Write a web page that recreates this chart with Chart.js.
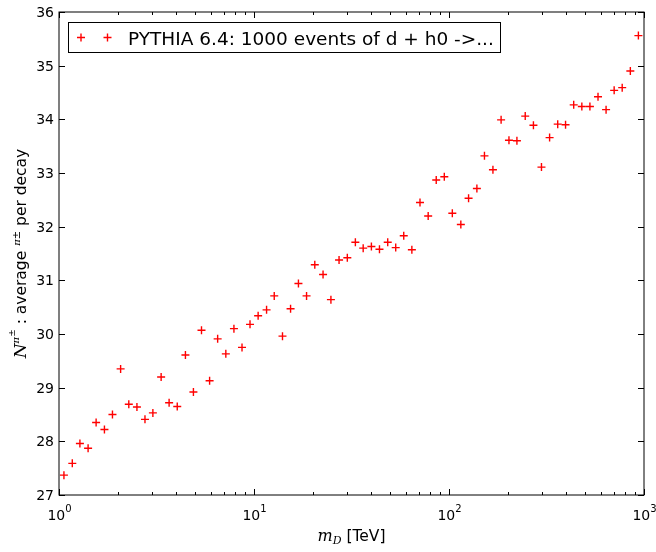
<!DOCTYPE html>
<html>
<head>
<meta charset="utf-8">
<script src="https://cdn.jsdelivr.net/npm/chart.js@4/dist/chart.umd.min.js"></script>
<style>
  html, body { margin: 0; padding: 0; background: #fff; }
  #wrap { width: 656px; height: 552px; }
</style>
</head>
<body>
<div id="wrap"><canvas id="chart" width="656" height="552"></canvas></div>
<script>
// m_D values in TeV (log spaced)
const massValues = [1.06, 1.17, 1.28, 1.41, 1.55, 1.71, 1.88, 2.07, 2.28, 2.51,
  2.76, 3.03, 3.34, 3.67, 4.04, 4.45, 4.89, 5.38, 5.92, 6.51,
  7.17, 7.89, 8.68, 9.54, 10.5, 11.6, 12.7, 14.0, 15.4, 16.9,
  18.6, 20.5, 22.6, 24.8, 27.3, 30.1, 33.1, 36.3, 40.0, 44.0,
  48.5, 53.3, 58.6, 64.5, 71.0, 78.2, 86.0, 94.6, 104, 115,
  126, 139, 152, 168, 185, 203, 223, 246, 271, 298,
  328, 361, 396, 436, 480, 528, 581, 639, 703, 773,
  851, 936];

// average charged pion multiplicity per decay
const pionAverage = [27.37, 27.59, 27.96, 27.87, 28.35, 28.22, 28.50, 29.35, 28.69, 28.64,
  28.41, 28.53, 29.20, 28.72, 28.65, 29.61, 28.92, 30.07, 29.13, 29.91,
  29.63, 30.10, 29.75, 30.18, 30.34, 30.45, 30.71, 29.96, 30.47, 30.94,
  30.71, 31.29, 31.11, 30.64, 31.38, 31.42, 31.71, 31.60, 31.63, 31.58,
  31.71, 31.61, 31.83, 31.57, 32.45, 32.20, 32.87, 32.93, 32.25, 32.04,
  32.53, 32.71, 33.32, 33.06, 33.99, 33.61, 33.60, 34.06, 33.89, 33.11,
  33.66, 33.91, 33.90, 34.27, 34.24, 34.24, 34.42, 34.18, 34.54, 34.59,
  34.90, 35.56];

const yTicks = [27, 28, 29, 30, 31, 32, 33, 34, 35, 36];
const xTickExponents = [0, 1, 2, 3];
const legendLabel = "PYTHIA 6.4: 1000 events of d + h0 ->...";

const SANS = '"DejaVu Sans", sans-serif';
const SERIF = '"DejaVu Serif", serif';

function drawCross(ctx, x, y, r) {
  ctx.beginPath();
  ctx.moveTo(x - r, y); ctx.lineTo(x + r, y);
  ctx.moveTo(x, y - r); ctx.lineTo(x, y + r);
  ctx.stroke();
}

const mplFrame = {
  id: "mplFrame",
  beforeDraw(chart) {
    const ctx = chart.ctx;
    ctx.save();
    ctx.fillStyle = "#fff";
    ctx.fillRect(0, 0, chart.width, chart.height);
    ctx.restore();
  },
  afterDraw(chart) {
    const ctx = chart.ctx;
    const a = chart.chartArea;
    const xs = chart.scales.x;
    const ys = chart.scales.y;
    ctx.save();
    ctx.strokeStyle = "#000";
    ctx.fillStyle = "#000";
    ctx.lineWidth = 1;

    // frame
    ctx.strokeRect(a.left, a.top, a.right - a.left, a.bottom - a.top);

    // y ticks (left and right, inside)
    ctx.font = "14px " + SANS;
    ctx.textAlign = "right";
    ctx.textBaseline = "middle";
    yTicks.forEach((v) => {
      const py = Math.round(ys.getPixelForValue(v)) + 0.5;
      ctx.beginPath();
      ctx.moveTo(a.left, py); ctx.lineTo(a.left + 6, py);
      ctx.moveTo(a.right, py); ctx.lineTo(a.right - 6, py);
      ctx.stroke();
      ctx.fillText(String(v), a.left - 5, py + 1);
    });

    // x ticks: majors and minors on bottom and top
    for (let d = 0; d < 3; d++) {
      for (let m = 2; m <= 9; m++) {
        const px = Math.round(xs.getPixelForValue(m * Math.pow(10, d))) + 0.5;
        ctx.beginPath();
        ctx.moveTo(px, a.bottom); ctx.lineTo(px, a.bottom - 3);
        ctx.moveTo(px, a.top); ctx.lineTo(px, a.top + 3);
        ctx.stroke();
      }
    }
    ctx.textBaseline = "alphabetic";
    ctx.textAlign = "left";
    xTickExponents.forEach((e) => {
      const px = Math.round(xs.getPixelForValue(Math.pow(10, e))) + 0.5;
      ctx.beginPath();
      ctx.moveTo(px, a.bottom); ctx.lineTo(px, a.bottom - 6);
      ctx.moveTo(px, a.top); ctx.lineTo(px, a.top + 6);
      ctx.stroke();
      ctx.font = "14px " + SANS;
      const w1 = ctx.measureText("10").width;
      ctx.font = "10px " + SANS;
      const w2 = ctx.measureText(String(e)).width;
      const start = px - (w1 + w2) / 2;
      ctx.font = "14px " + SANS;
      ctx.fillText("10", start, a.bottom + 25);
      ctx.font = "10px " + SANS;
      ctx.fillText(String(e), start + w1, a.bottom + 17);
    });

    // x axis title: m_D [TeV]
    const xParts = [
      { t: "m", f: "italic 16px " + SERIF, dy: 0 },
      { t: "D", f: "italic 11px " + SERIF, dy: 3 },
      { t: " [TeV]", f: "15.5px " + SANS, dy: 0 }
    ];
    let tw = 0;
    xParts.forEach((p) => { ctx.font = p.f; p.w = ctx.measureText(p.t).width; tw += p.w; });
    let cx = (a.left + a.right) / 2 - tw / 2;
    xParts.forEach((p) => { ctx.font = p.f; ctx.fillText(p.t, cx, 541 + p.dy); cx += p.w; });

    // y axis title (rotated)
    const yParts = [
      { t: "N", f: "italic 17px " + SERIF, dy: 0 },
      { t: "\u03c0", f: "italic 10px " + SERIF, dy: -7 },
      { t: "\u00b1", f: "9px " + SANS, dy: -11 },
      { t: " : average ", f: "15.5px " + SANS, dy: 0 },
      { t: "\u03c0", f: "italic 10px " + SERIF, dy: -6 },
      { t: "\u00b1", f: "10px " + SANS, dy: -6 },
      { t: " per decay", f: "15.5px " + SANS, dy: 0 }
    ];
    tw = 0;
    yParts.forEach((p) => { ctx.font = p.f; p.w = ctx.measureText(p.t).width; tw += p.w; });
    ctx.translate(26, (a.top + a.bottom) / 2);
    ctx.rotate(-Math.PI / 2);
    cx = -tw / 2;
    yParts.forEach((p) => { ctx.font = p.f; ctx.fillText(p.t, cx, p.dy); cx += p.w; });
    ctx.setTransform(1, 0, 0, 1, 0, 0);

    // legend box
    ctx.fillStyle = "#fff";
    ctx.fillRect(68.5, 22.5, 432, 30);
    ctx.strokeRect(68.5, 22.5, 432, 30);
    ctx.strokeStyle = "#ff0000";
    ctx.lineWidth = 1.4;
    drawCross(ctx, 81, 37.5, 4);
    drawCross(ctx, 107.5, 37.5, 4);
    ctx.fillStyle = "#000";
    ctx.font = "18.5px " + SANS;
    ctx.fillText(legendLabel, 128, 44.5);
    ctx.restore();
  }
};

new Chart(document.getElementById("chart"), {
  type: "scatter",
  data: {
    datasets: [{
      label: legendLabel,
      data: massValues.map((m, i) => ({ x: m, y: pionAverage[i] })),
      pointStyle: "cross",
      pointRadius: 4,
      pointHoverRadius: 4,
      borderColor: "#ff0000",
      backgroundColor: "#ff0000",
      borderWidth: 1.4,
      showLine: false
    }]
  },
  options: {
    responsive: false,
    animation: false,
    layout: { padding: { left: 59, top: 12, right: 12, bottom: 57 } },
    plugins: { legend: { display: false }, tooltip: { enabled: false } },
    scales: {
      x: { type: "logarithmic", min: 1, max: 1000, display: false },
      y: { type: "linear", min: 27, max: 36, display: false }
    }
  },
  plugins: [mplFrame]
});
</script>
</body>
</html>
